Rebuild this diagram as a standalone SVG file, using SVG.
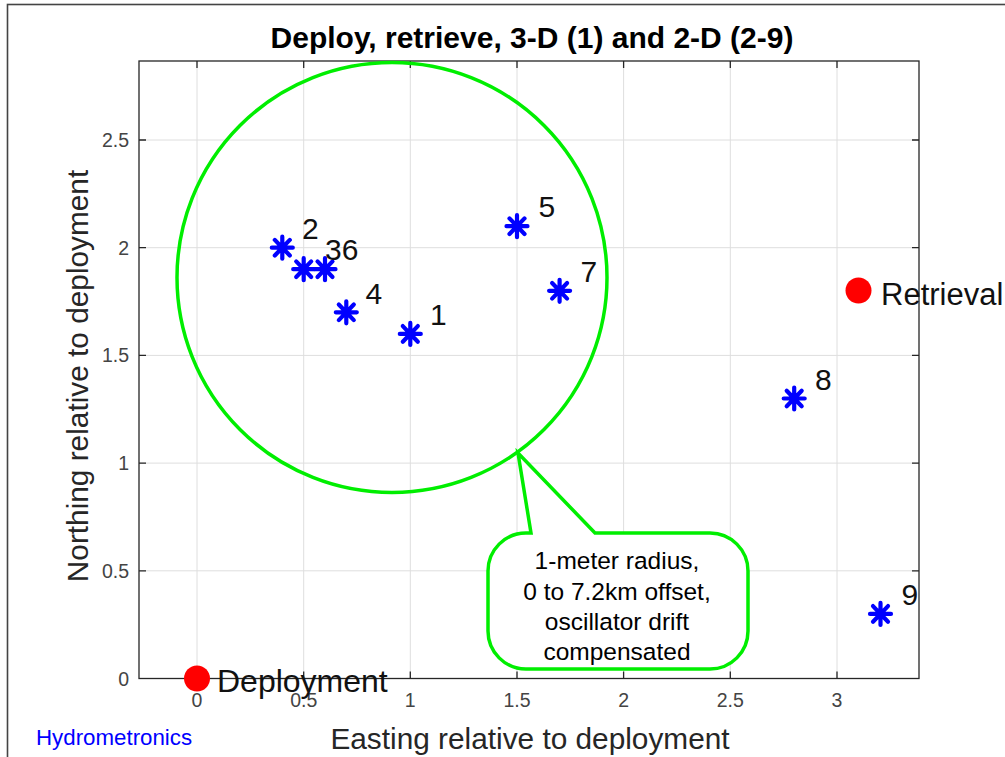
<svg xmlns="http://www.w3.org/2000/svg" width="1005" height="757" viewBox="0 0 1005 757">
<defs>
<style>
.grid{stroke:#dedede;stroke-width:1;fill:none}
.axis{stroke:#262626;stroke-width:1.3;fill:none}
.tick{font-family:"Liberation Sans",Arial,sans-serif;font-size:19.5px;fill:#444}
.lbl{font-family:"Liberation Sans",Arial,sans-serif;font-size:29.8px;fill:#262626}
.num{font-family:"Liberation Sans",Arial,sans-serif;font-size:30px;fill:#111}
.big{font-family:"Liberation Sans",Arial,sans-serif;font-size:31px;fill:#111}
.call{font-family:"Liberation Sans",Arial,sans-serif;font-size:24.5px;fill:#000;text-anchor:middle}
.star{stroke:#0000ff;stroke-width:4.2;stroke-linecap:round;fill:none}
.dot{fill:#ff0000}
.green{stroke:#00ee00;stroke-width:3.5;fill:none}
</style>
<path id="ast" class="star" d="M-10.5,0H10.5M0,-11V11M-7.5,-7.8L7.5,7.8M-7.5,7.8L7.5,-7.8"/>
</defs>
<rect width="1005" height="757" fill="#fff"/>
<rect x="7.5" y="4.5" width="1100" height="800" fill="none" stroke="#444" stroke-width="1.6"/>
<g id="title"><text x="532" y="48" text-anchor="middle" style="font-family:'Liberation Sans',Arial,sans-serif;font-size:30px;font-weight:bold;fill:#000">Deploy, retrieve, 3-D (1) and 2-D (2-9)</text></g>
<g id="grid">
<path class="grid" d="M197,61V678.5M303.7,61V678.5M410.3,61V678.5M517,61V678.5M623.6,61V678.5M730.3,61V678.5M837,61V678.5"/>
<path class="grid" d="M139,570.8H919M139,463.1H919M139,355.4H919M139,247.7H919M139,140H919"/>
</g>
<g id="axes">
<rect class="axis" x="139" y="61" width="780" height="617.5"/>
<path class="axis" d="M197,678.5v-7M303.7,678.5v-7M410.3,678.5v-7M517,678.5v-7M623.6,678.5v-7M730.3,678.5v-7M837,678.5v-7M197,61v7M303.7,61v7M410.3,61v7M517,61v7M623.6,61v7M730.3,61v7M837,61v7"/>
<path class="axis" d="M139,570.8h7M139,463.1h7M139,355.4h7M139,247.7h7M139,140h7M919,570.8h-7M919,463.1h-7M919,355.4h-7M919,247.7h-7M919,140h-7"/>
<g class="tick" text-anchor="middle">
<text x="197" y="707">0</text><text x="303.7" y="707">0.5</text><text x="410.3" y="707">1</text><text x="517" y="707">1.5</text><text x="623.6" y="707">2</text><text x="730.3" y="707">2.5</text><text x="837" y="707">3</text>
</g>
<g class="tick" text-anchor="end">
<text x="129" y="685.5">0</text><text x="129" y="577.8">0.5</text><text x="129" y="470.1">1</text><text x="129" y="362.4">1.5</text><text x="129" y="254.7">2</text><text x="129" y="147">2.5</text>
</g>
<text class="lbl" x="530" y="749" text-anchor="middle">Easting relative to deployment</text>
<text class="lbl" transform="translate(88,376) rotate(-90)" text-anchor="middle">Northing relative to deployment</text>
</g>
<g id="connectors">
<path id="callout-tail" class="green" style="fill:#fff" d="M531,533L518,453L595,533H710A38,38 0 0 1 748,571V631A38,38 0 0 1 710,669H526A38,38 0 0 1 488,631V571A38,38 0 0 1 526,533Z"/>
</g>
<g id="circle"><circle class="green" cx="392" cy="277.5" r="215"/></g>
<g id="callout">
<text class="call" x="617" y="569">1-meter radius,</text>
<text class="call" x="617" y="600">0 to 7.2km offset,</text>
<text class="call" x="617" y="630">oscillator drift</text>
<text class="call" x="617" y="660">compensated</text>
</g>
<g id="p1"><use href="#ast" x="410.3" y="333.9"/><text class="num" x="430" y="325">1</text></g>
<g id="p2"><use href="#ast" x="282.3" y="247.7"/><text class="num" x="302" y="239">2</text></g>
<g id="p3"><use href="#ast" x="303.7" y="269.2"/></g>
<g id="p6"><use href="#ast" x="325" y="269.2"/><text class="num" x="325" y="260">36</text></g>
<g id="p4"><use href="#ast" x="346.3" y="312.3"/><text class="num" x="365.5" y="304">4</text></g>
<g id="p5"><use href="#ast" x="517" y="226.2"/><text class="num" x="538.5" y="217">5</text></g>
<g id="p7"><use href="#ast" x="559.6" y="290.8"/><text class="num" x="580.5" y="282">7</text></g>
<g id="p8"><use href="#ast" x="794.2" y="398.5"/><text class="num" x="815" y="389.5">8</text></g>
<g id="p9"><use href="#ast" x="880.5" y="613.9"/><text class="num" x="901.5" y="605">9</text></g>
<g id="retrieval"><circle class="dot" cx="858.5" cy="290.5" r="13"/><text class="big" x="881" y="304.5">Retrieval</text></g>
<g id="deployment"><circle class="dot" cx="197" cy="678.5" r="13"/><text class="big" x="217" y="692" style="font-size:32px">Deployment</text></g>
<g id="brand"><text x="36" y="745" style="font-family:'Liberation Sans',Arial,sans-serif;font-size:22.3px;fill:#0000ff">Hydrometronics</text></g>
</svg>
